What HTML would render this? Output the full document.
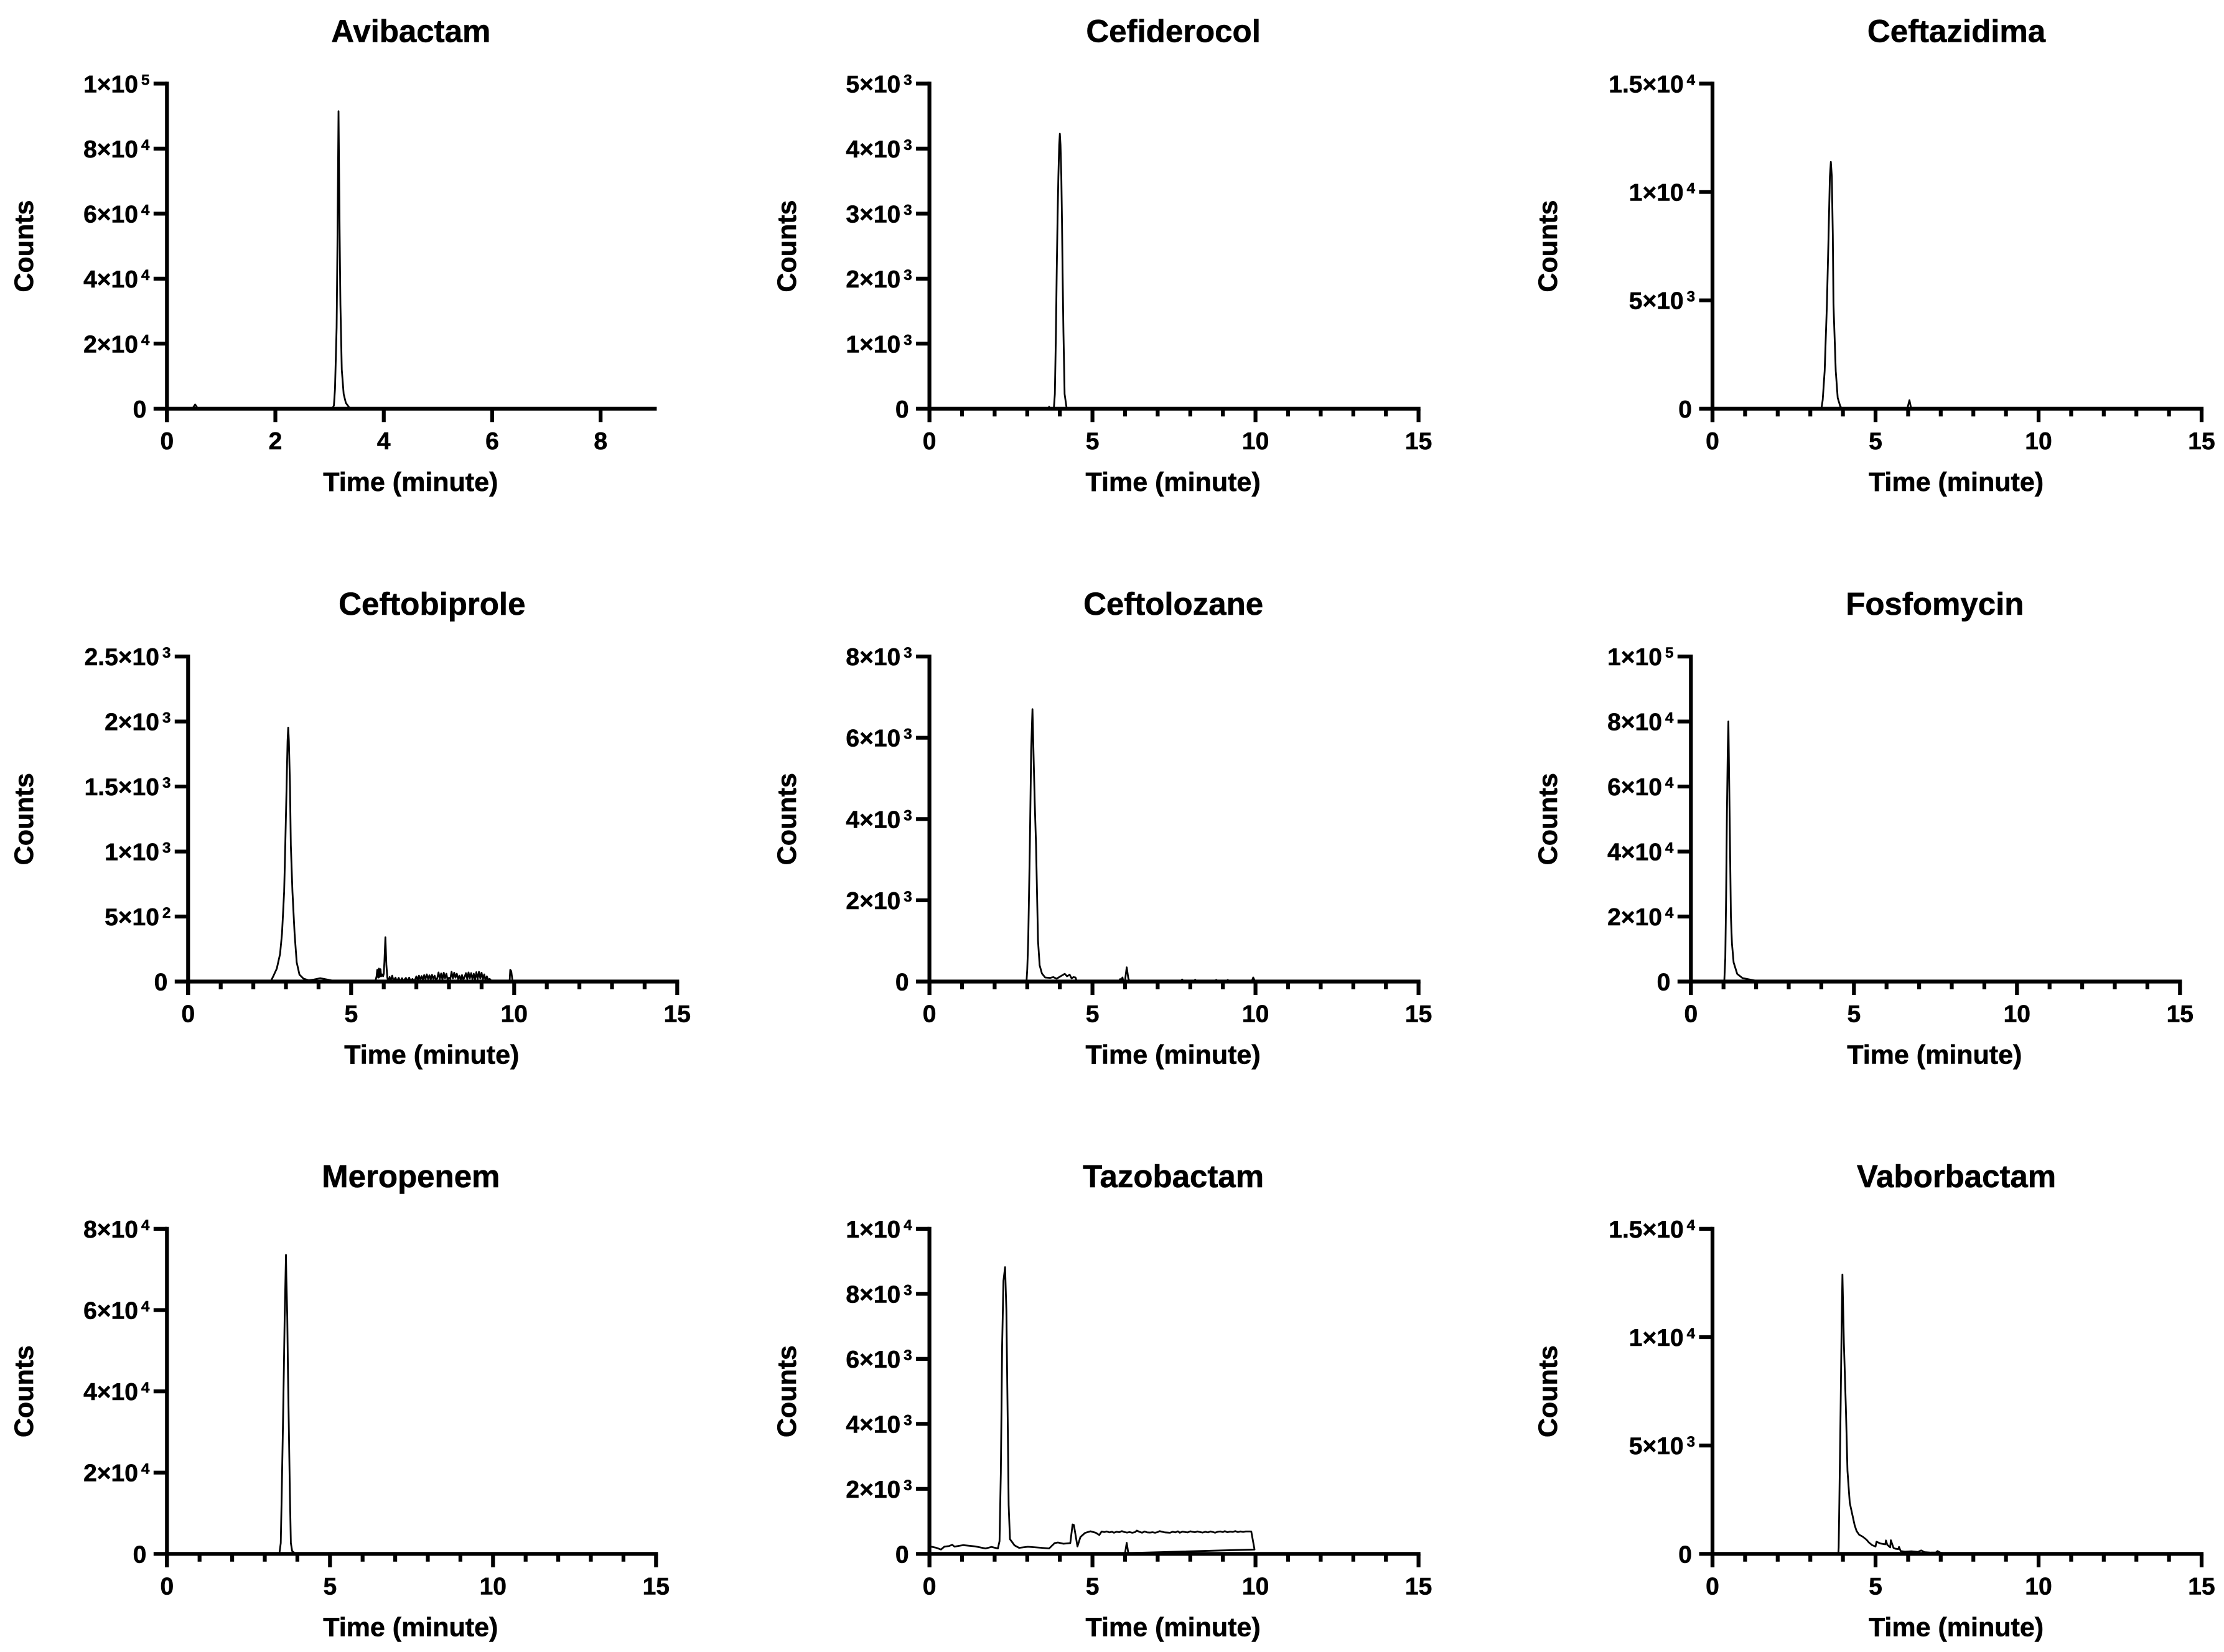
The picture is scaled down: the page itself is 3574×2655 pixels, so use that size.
<!DOCTYPE html>
<html lang="en">
<head>
<meta charset="utf-8">
<title>Chromatograms of nine antibiotics</title>
<style>
html,body{margin:0;padding:0;background:#fff;}
svg{display:block;}
text{font-family:"Liberation Sans",Arial,sans-serif;font-weight:700;fill:#000;stroke:#000;stroke-width:0.6;}
</style>
</head>
<body>
<svg id="figure" xmlns="http://www.w3.org/2000/svg" width="3574" height="2655" viewBox="0 0 3574 2655"></svg>
<script>
// ---------- Data ----------
const avibactamTimes=[0,0.47,0.52,0.57,3.05,3.08,3.10,3.13,3.145,3.165,3.185,3.20,3.225,3.26,3.30,3.36,3.42,9];
const avibactamCounts=[0,0,1300,0,0,1000,6000,25000,50000,91500,55000,32000,12000,4500,1800,400,0,0];
const avibactamYTicks=[0,20000,40000,60000,80000,100000];
const avibactamXMajor=[0,2,4,6,8];
const avibactamXMinor=[];

const cefiderocolTimes=[0,3.65,3.67,3.69,3.815,3.847,3.88,3.905,3.93,3.955,3.98,4.0,4.02,4.045,4.064,4.083,4.11,4.146,4.21,15];
const cefiderocolCounts=[0,0,30,0,0,225,1180,2140,2935,3575,4055,4230,4055,3575,2935,2140,1180,225,0,0];
const cefiderocolYTicks=[0,1000,2000,3000,4000,5000];

const ceftazidimaTimes=[0,3.34,3.38,3.44,3.51,3.56,3.60,3.63,3.66,3.69,3.71,3.78,3.84,3.92,3.98,5.9,5.98,6.04,6.09,6.13,15];
const ceftazidimaCounts=[0,0,400,1740,4850,8000,10700,11390,10700,8000,4850,1740,500,100,0,0,30,390,30,0,0];
const ceftazidimaYTicks=[0,5000,10000,15000];

const ceftobiproleTimes=[0,2.53,2.62,2.72,2.82,2.88,2.945,2.98,3.02,3.05,3.07,3.09,3.125,3.15,3.2,3.265,3.33,3.415,3.54,3.7,3.85,4.05,4.3,4.55,5.74,5.78,5.80,5.83,5.85,5.87,5.90,5.92,5.95,5.98,6.0,6.02,6.05,6.08,6.11,6.14,6.18,6.21,6.26,6.3,6.36,6.4,6.46,6.5,6.56,6.6,6.68,6.72,6.78,6.82,6.88,6.92,6.96,7.00,7.04,7.08,7.12,7.16,7.20,7.24,7.28,7.32,7.36,7.40,7.44,7.48,7.52,7.56,7.60,7.64,7.68,7.72,7.76,7.80,7.84,7.88,7.92,7.96,8.00,8.04,8.08,8.12,8.16,8.20,8.24,8.28,8.32,8.36,8.40,8.44,8.48,8.52,8.56,8.60,8.64,8.68,8.72,8.76,8.80,8.84,8.88,8.92,8.96,9.00,9.04,9.08,9.12,9.16,9.20,9.25,9.32,9.86,9.88,9.91,9.95,15];
const ceftobiproleCounts=[0,0,45,100,212,371,690,1048,1500,1850,1953,1850,1500,1048,690,371,148,53,22,10,15,26,14,0,0,40,90,30,100,35,95,40,55,40,60,150,340,130,30,0,35,5,45,5,30,3,28,0,26,5,28,4,30,3,20,5,15,40,10,45,15,42,12,50,18,55,20,48,15,52,20,45,10,25,70,20,62,15,68,25,60,12,30,20,75,25,68,30,60,20,45,12,50,15,35,65,20,70,25,65,18,60,15,72,20,75,25,68,15,55,10,40,15,20,0,0,90,80,0,0];
const ceftobiproleYTicks=[0,500,1000,1500,2000,2500];

const ceftolozaneTimes=[0,2.8,2.9,2.98,3.0,3.03,3.08,3.12,3.16,3.19,3.23,3.27,3.33,3.38,3.45,3.55,3.7,3.8,3.9,4.0,4.15,4.22,4.3,4.36,4.42,4.48,4.52,5.8,5.85,5.88,5.92,5.95,6.0,6.05,6.1,6.14,7.2,7.3,7.35,7.7,7.75,7.8,8.1,8.15,8.2,8.7,8.8,8.85,9.1,9.15,9.2,9.88,9.93,9.99,15];
const ceftolozaneCounts=[0,0,20,30,300,1010,3350,5690,6704,5690,4400,3350,1010,400,200,100,90,110,70,120,190,130,170,80,110,100,0,0,60,30,100,0,30,350,80,0,0,20,0,0,50,0,0,45,0,0,40,0,0,40,0,0,100,0,0];
const ceftolozaneYTicks=[0,2000,4000,6000,8000];

const fosfomycinTimes=[0,1.023,1.055,1.08,1.105,1.13,1.15,1.17,1.195,1.227,1.26,1.31,1.42,1.58,1.83,2.12,15];
const fosfomycinCounts=[0,0,7150,26300,51900,71000,80000,64600,45500,19900,11600,5900,2360,1085,575,0,0];
const fosfomycinYTicks=[0,20000,40000,60000,80000,100000];

const meropenemTimes=[0,3.446,3.49,3.52,3.554,3.586,3.61,3.637,3.65,3.66,3.69,3.71,3.74,3.77,3.80,3.84,3.95,15];
const meropenemCounts=[0,0,2650,14900,30200,45500,58300,68500,73590,68500,58300,45500,30200,14900,2650,700,0,0];
const meropenemYTicks=[0,20000,40000,60000,80000];

const tazobactamTimes=[0,0.047,0.2,0.355,0.458,0.6,0.70,0.77,1.04,1.4,1.72,1.9,2.1,2.15,2.19,2.23,2.27,2.32,2.36,2.40,2.43,2.47,2.61,2.75,3.02,3.4,3.67,3.84,3.94,4.11,4.32,4.39,4.43,4.54,4.63,4.77,4.94,5.1,5.21,5.28,5.36,5.44,5.52,5.60,5.66,5.74,5.82,5.9,5.98,6.06,6.14,6.22,6.3,6.36,6.44,6.52,6.6,6.68,6.76,6.84,6.92,7.0,7.06,7.14,7.22,7.3,7.38,7.46,7.54,7.62,7.68,7.76,7.84,7.92,8.0,8.06,8.14,8.22,8.3,8.38,8.46,8.54,8.62,8.7,8.76,8.84,8.92,9.0,9.06,9.14,9.22,9.3,9.38,9.46,9.54,9.62,9.7,9.87,9.97,6.1,6.05,6.0,5.8];
const tazobactamCounts=[180,223,190,134,223,240,280,223,268,230,166,213,166,390,2500,6400,8400,8820,7500,4200,1500,453,262,185,218,190,166,331,350,312,331,905,890,229,516,644,695,650,580,688,670,690,660,680,650,680,665,700,670,655,670,650,665,715,680,650,690,660,655,665,650,670,700,680,660,655,650,680,660,695,650,685,670,660,695,680,665,690,670,655,680,660,690,670,650,680,690,670,700,665,685,675,700,670,690,675,690,690,134,25,340,25,30];
const tazobactamYTicks=[0,2000,4000,6000,8000,10000];

const vaborbactamTimes=[0,3.86,3.87,3.89,3.93,3.96,3.985,4.03,4.09,4.14,4.21,4.36,4.42,4.5,4.6,4.72,4.8,4.9,5.0,5.03,5.15,5.3,5.32,5.36,5.45,5.47,5.55,5.6,5.7,5.72,5.77,5.9,6.1,6.3,6.4,6.5,6.7,6.85,6.9,7.0,7.3,15];
const vaborbactamCounts=[0,0,300,2353,6770,10500,12890,9720,6770,3820,2353,1320,1050,880,800,660,520,400,340,560,480,440,620,420,300,630,280,240,220,320,130,100,120,90,160,80,60,60,130,50,0,0];
const vaborbactamYTicks=[0,5000,10000,15000];

const standardXMajor=[0,5,10,15];
const standardXMinor=[1,2,3,4,6,7,8,9,11,12,13,14];

const xAxisTitle='Time (minute)';
const yAxisTitle='Counts';

// ---------- Layout ----------
const plotHeight=522.4;
const layoutRows=[656.8,1577.5,2497.3];
const panels=[
 {id:'avibactam',title:'Avibactam',times:avibactamTimes,counts:avibactamCounts,yTicks:avibactamYTicks,xMajor:avibactamXMajor,xMinor:avibactamXMinor,xMax:9,x0:268.3,width:784,bottom:layoutRows[0],titleX:53},
 {id:'cefiderocol',title:'Cefiderocol',times:cefiderocolTimes,counts:cefiderocolCounts,yTicks:cefiderocolYTicks,xMajor:standardXMajor,xMinor:standardXMinor,xMax:15,x0:1493.6,width:786,bottom:layoutRows[0],titleX:1279},
 {id:'ceftazidima',title:'Ceftazidima',times:ceftazidimaTimes,counts:ceftazidimaCounts,yTicks:ceftazidimaYTicks,xMajor:standardXMajor,xMinor:standardXMinor,xMax:15,x0:2752,width:786,bottom:layoutRows[0],titleX:2502},
 {id:'ceftobiprole',title:'Ceftobiprole',times:ceftobiproleTimes,counts:ceftobiproleCounts,yTicks:ceftobiproleYTicks,xMajor:standardXMajor,xMinor:standardXMinor,xMax:15,x0:302.3,width:786,bottom:layoutRows[1],titleX:53},
 {id:'ceftolozane',title:'Ceftolozane',times:ceftolozaneTimes,counts:ceftolozaneCounts,yTicks:ceftolozaneYTicks,xMajor:standardXMajor,xMinor:standardXMinor,xMax:15,x0:1493.6,width:786,bottom:layoutRows[1],titleX:1279},
 {id:'fosfomycin',title:'Fosfomycin',times:fosfomycinTimes,counts:fosfomycinCounts,yTicks:fosfomycinYTicks,xMajor:standardXMajor,xMinor:standardXMinor,xMax:15,x0:2717.3,width:786,bottom:layoutRows[1],titleX:2502},
 {id:'meropenem',title:'Meropenem',times:meropenemTimes,counts:meropenemCounts,yTicks:meropenemYTicks,xMajor:standardXMajor,xMinor:standardXMinor,xMax:15,x0:268.3,width:786,bottom:layoutRows[2],titleX:53},
 {id:'tazobactam',title:'Tazobactam',times:tazobactamTimes,counts:tazobactamCounts,yTicks:tazobactamYTicks,xMajor:standardXMajor,xMinor:standardXMinor,xMax:15,x0:1493.6,width:786,bottom:layoutRows[2],titleX:1279},
 {id:'vaborbactam',title:'Vaborbactam',times:vaborbactamTimes,counts:vaborbactamCounts,yTicks:vaborbactamYTicks,xMajor:standardXMajor,xMinor:standardXMinor,xMax:15,x0:2752,width:786,bottom:layoutRows[2],titleX:2502}
];

const NS='http://www.w3.org/2000/svg';
const svg=document.getElementById('figure');
const AXIS_W=6.2, MAJOR=21.5, MINOR=12.5;

function make(parent,tag,attrs,text){
  const el=document.createElementNS(NS,tag);
  for(const k in attrs){el.setAttribute(k,attrs[k]);}
  if(text!==undefined){el.textContent=text;}
  parent.appendChild(el);
  return el;
}
function exponentParts(v){
  const e=Math.floor(Math.log10(v)+1e-9);
  const m=Math.round(v/Math.pow(10,e)*10)/10;
  return [m,e];
}

panels.forEach(function(p){
  const yMax=p.yTicks[p.yTicks.length-1];
  const xScale=function(t){return p.x0+t/p.xMax*p.width;};
  const yScale=function(c){return p.bottom-c/yMax*plotHeight;};
  const top=p.bottom-plotHeight;
  const cx=p.x0+392;

  const g=make(svg,'g',{});
  
  

  const title=make(g,'text',{x:cx,y:top-67,'text-anchor':'middle','font-size':51},p.title);
  
  

  const xTitle=make(g,'text',{x:cx-0.5,y:p.bottom+132,'text-anchor':'middle','font-size':43},xAxisTitle);
  
  

  const yTitle=make(g,'text',{transform:'translate('+p.titleX+','+(top+plotHeight/2)+') rotate(-90)','text-anchor':'middle','font-size':43},yAxisTitle);
  
  

  // chromatogram trace
  let d='';
  p.times.forEach(function(t,i){
    d+=(i?'L':'M')+xScale(t).toFixed(2)+' '+yScale(p.counts[i]).toFixed(2);
  });
  const trace=make(g,'path',{d:d,fill:'none',stroke:'#000','stroke-width':2.8,'stroke-linejoin':'round','stroke-linecap':'butt'});
  
  

  // axes
  const yAxis=make(g,'line',{x1:p.x0,x2:p.x0,y1:top-AXIS_W/2,y2:p.bottom+MAJOR,stroke:'#000','stroke-width':AXIS_W});
  
  

  const xAxis=make(g,'line',{x1:p.x0-MAJOR,x2:p.x0+p.width+AXIS_W/2,y1:p.bottom,y2:p.bottom,stroke:'#000','stroke-width':AXIS_W});
  
  

  // y ticks and labels
  p.yTicks.forEach(function(v){
    const y=yScale(v);
    if(v!==0){
      const tick=make(g,'line',{x1:p.x0-MAJOR,x2:p.x0,y1:y,y2:y,stroke:'#000','stroke-width':AXIS_W});
      
      
    }
    const label=make(g,'text',{x:v===0?p.x0-33:p.x0-28,y:y+14,'text-anchor':'end','font-size':39});
    
    
    if(v===0){
      label.textContent='0';
    }else{
      const parts=exponentParts(v);
      label.textContent=parts[0]+'×10';
      make(label,'tspan',{dx:5,dy:-12,'font-size':24},String(parts[1]));
    }
  });

  // x ticks and labels
  p.xMajor.forEach(function(v){
    const x=xScale(v);
    const tick=make(g,'line',{x1:x,x2:x,y1:p.bottom,y2:p.bottom+MAJOR,stroke:'#000','stroke-width':AXIS_W});
    
    
    const label=make(g,'text',{x:x,y:p.bottom+65,'text-anchor':'middle','font-size':39},String(v));
    
    
  });
  p.xMinor.forEach(function(v){
    const x=xScale(v);
    const tick=make(g,'line',{x1:x,x2:x,y1:p.bottom,y2:p.bottom+MINOR,stroke:'#000','stroke-width':AXIS_W});
    
    
  });
});
</script>
</body>
</html>
